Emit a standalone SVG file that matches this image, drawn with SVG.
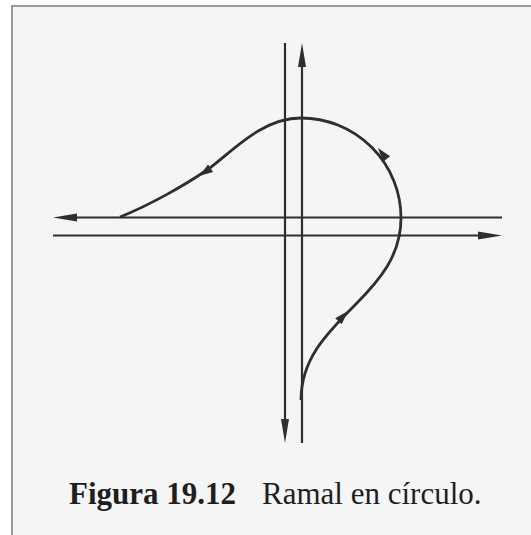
<svg xmlns="http://www.w3.org/2000/svg" width="531" height="535" viewBox="0 0 531 535">
  <style>
    .road { stroke: #2e2e2e; stroke-width: 2.2; fill: none; }
    .ramp { stroke: #2e2e2e; stroke-width: 2.8; fill: none; }
    .head { fill: #2e2e2e; }
    .cap { font-family: "Liberation Serif", "Times New Roman", serif; font-size: 31px; fill: #1e1e1e; }
  </style>
  <defs>
    <path id="ahBig" d="M0,0 L-24,-4 L-24,4 Z"/>
    <path id="ahSmall" d="M0,0 L-14,-4.5 L-14,4.5 Z"/>
  </defs>
  <rect x="0" y="0" width="531" height="535" fill="#ffffff"/>
  <g id="frame">
    <rect x="12" y="6" width="530" height="540" fill="#f5f5f5" stroke="#9a9a9a" stroke-width="2"/>
  </g>
  <g id="connectors">
    <g id="roads">
      <line class="road" x1="285" y1="43" x2="285" y2="425"/>
      <line class="road" x1="302" y1="60" x2="302" y2="443"/>
      <line class="road" x1="70" y1="217.5" x2="502" y2="217.5"/>
      <line class="road" x1="53" y1="235.5" x2="485" y2="235.5"/>
      <use href="#ahBig" class="head" transform="translate(285,443) rotate(90)"/>
      <use href="#ahBig" class="head" transform="translate(302,43) rotate(-90)"/>
      <use href="#ahBig" class="head" transform="translate(53,217.5) rotate(180)"/>
      <use href="#ahBig" class="head" transform="translate(502,235.5)"/>
    </g>
    <g id="ramp">
      <path class="ramp" d="M120,217 C150,205 185,185 207,170 C229,155 260,118 301,118 A100,100 0 0 1 401,218 C401,255 380,280 355,305 C325,335 301,360 301,400"/>
      <use href="#ahSmall" class="head" transform="translate(199,176) rotate(146)"/>
      <use href="#ahSmall" class="head" transform="translate(378,148) rotate(-128)"/>
      <use href="#ahSmall" class="head" transform="translate(348,311) rotate(-47)"/>
    </g>
  </g>
  <g id="caption">
    <text class="cap" x="69" y="504" font-weight="bold">Figura 19.12</text>
    <text class="cap" x="262" y="504">Ramal en círculo.</text>
  </g>
</svg>
